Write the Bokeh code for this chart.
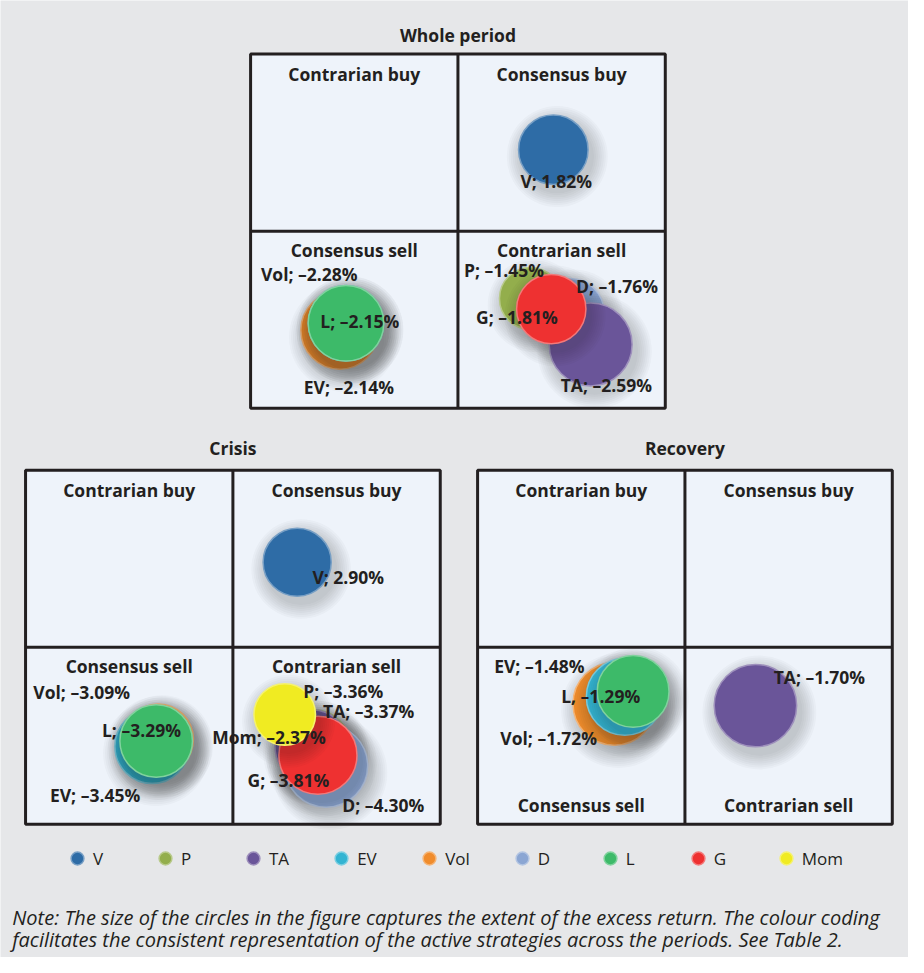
import math
from bokeh.plotting import figure
from bokeh.models import Range1d, Legend, LegendItem, Label
from bokeh.core.properties import value
from bokeh.embed import file_html
from bokeh.resources import INLINE

# ---------------- data ----------------
strategies = ["V", "P", "TA", "EV", "Vol", "D", "L", "G", "Mom"]

period_titles = ["Whole period", "Crisis", "Recovery"]
quadrant_labels = ["Contrarian buy", "Consensus buy", "Consensus sell", "Contrarian sell"]

# bubble positions in quadrant space (-1..1 both axes, quadrant borders at 0)
whole_names = ["V", "D", "TA", "P", "G", "Vol", "EV", "L"]
whole_returns = [1.82, -1.76, -2.59, -1.45, -1.81, -2.28, -2.14, -2.15]
whole_x = [0.46, 0.54, 0.64, 0.35, 0.45, -0.57, -0.54, -0.54]
whole_y = [0.46, -0.46, -0.64, -0.38, -0.44, -0.56, -0.52, -0.52]
whole_sep = ["; "] * 8

crisis_names = ["V", "EV", "Vol", "L", "P", "TA", "D", "G", "Mom"]
crisis_returns = [2.90, -3.45, -3.09, -3.29, -3.36, -3.37, -4.30, -3.81, -2.37]
crisis_x = [0.31, -0.39, -0.36, -0.37, 0.39, 0.38, 0.45, 0.41, 0.25]
crisis_y = [0.48, -0.56, -0.52, -0.53, -0.56, -0.56, -0.67, -0.61, -0.38]
crisis_sep = ["; "] * 9

recovery_names = ["Vol", "EV", "L", "TA"]
recovery_returns = [-1.72, -1.48, -1.29, -1.70]
recovery_x = [-0.34, -0.29, -0.25, 0.34]
recovery_y = [-0.32, -0.28, -0.25, -0.33]
recovery_sep = ["; ", "; ", ", ", "; "]

note_lines = [
    "Note: The size of the circles in the figure captures the extent of the excess return. The colour coding",
    "facilitates the consistent representation of the active strategies across the periods. See Table 2.",
]

# ---------------- style ----------------
BG = "#e6e7e9"
PANEL = "#eef3fa"
INK = "#231f20"
COLORS = {"V": "#2e6ca6", "P": "#93ae4c", "TA": "#6a5599", "EV": "#33b4d2",
          "Vol": "#f08c2c", "D": "#8ba6d3", "L": "#3dba69", "G": "#ee3131",
          "Mom": "#f0eb22"}
FONT = "Open Sans"
R_MAX = 0.2


def lighten(hx, f=0.35):
    hx = hx.lstrip("#")
    r, g, b = (int(hx[i:i + 2], 16) for i in (0, 2, 4))
    r, g, b = (int(c + (255 - c) * f) for c in (r, g, b))
    return "#%02x%02x%02x" % (r, g, b)


def fmt(name, v, sep):
    return f"{name}{sep}{'–' if v < 0 else ''}{abs(v):.2f}%"


W, H = 908, 957
# page coordinate frame (reference picture units)
X0, X1 = 0, 924
Y0, Y1 = 0, 973
S = W / (X1 - X0)

p = figure(width=W, height=H, x_range=Range1d(X0, X1), y_range=Range1d(Y1, Y0),
           output_backend="svg", toolbar_location=None, min_border=0,
           x_axis_location=None, y_axis_location=None,
           background_fill_color=BG, border_fill_color=BG, outline_line_color=None)
p.grid.visible = False

legend_renderers = {}

# label offsets (px) relative to bubble centres
whole_off = {"V": (3, 32), "D": (48, -27), "TA": (16, 41), "P": (-27, -29), "G": (-35, 8),
             "Vol": (-31, -57), "EV": (3, 65), "L": (14, -2)}
crisis_off = {"V": (52, 15), "Vol": (-78, -48), "EV": (-58, 50), "L": (-15, -11), "P": (30, -56),
              "TA": (58, -36), "Mom": (-16, 23), "G": (-30, 25), "D": (58, 40)}
recovery_off = {"Vol": (-67, 35), "EV": (-87, -31), "L": (-33, 5), "TA": (65, -29)}

panels = [
    ("whole", period_titles[0], (254.5, 676.5, 54.5, 414.5), -19, False,
     whole_names, whole_returns, whole_x, whole_y, whole_sep, whole_off),
    ("crisis", period_titles[1], (25.5, 447.5, 477.5, 837.5), -23, False,
     crisis_names, crisis_returns, crisis_x, crisis_y, crisis_sep, crisis_off),
    ("recovery", period_titles[2], (485.5, 907.5, 477.5, 837.5), -23, True,
     recovery_names, recovery_returns, recovery_x, recovery_y, recovery_sep, recovery_off),
]

for key, title, box, title_off, bottom_sell, names, rets, xs, ys, seps, offs in panels:
    L, R, T, B = box
    sx = (R - L) / 2
    cx = (L + R) / 2
    sy = (B - T) / 2
    cy = (T + B) / 2
    p.extra_x_ranges[key] = Range1d((X0 - cx) / sx, (X1 - cx) / sx)
    p.extra_y_ranges[key] = Range1d((cy - Y1) / sy, (cy - Y0) / sy)
    kw = dict(x_range_name=key, y_range_name=key)

    p.quad(left=[-1], right=[1], bottom=[-1], top=[1], fill_color=PANEL, line_color=None, **kw)

    rmax = max(abs(v) for v in rets)
    for name, v, x, y in zip(names, rets, xs, ys):
        r = R_MAX * math.sqrt(abs(v) / rmax)
        for k in range(1, 9):
            p.circle(x=[x + 4 / sx], y=[y - 7 / sy], radius=r + k * 2.0 / sx,
                     fill_color="#1a1f2e", fill_alpha=0.027, line_color=None, **kw)
        rr = p.circle(x=[x], y=[y], radius=r, fill_color=COLORS[name],
                      line_color=lighten(COLORS[name]), line_width=1.5, **kw)
        legend_renderers.setdefault(name, rr)

    # bubble labels
    p.text(x=xs, y=ys, text=[fmt(n, v, s) for n, v, s in zip(names, rets, seps)],
           x_offset=[offs[n][0] * S for n in names], y_offset=[offs[n][1] * S for n in names],
           text_font=value(FONT), text_font_style="bold", text_font_size="17.5px",
           text_color=INK, text_align="center", text_baseline="middle", **kw)

    # frame and quadrant dividers
    p.quad(left=[-1], right=[1], bottom=[-1], top=[1], fill_color=None,
           line_color=INK, line_width=3, **kw)
    p.segment(x0=[-1, 0], y0=[0, -1], x1=[1, 0], y1=[0, 1], line_color=INK, line_width=3, **kw)

    # quadrant labels
    qx = [-0.5, 0.5, -0.5, 0.5]
    if bottom_sell:
        qy = [1, 1, -1, -1]
        qoff = [20, 20, -20, -20]
    else:
        qy = [1, 1, 0, 0]
        qoff = [20, 20, 19, 19]
    p.text(x=qx, y=qy, text=quadrant_labels, y_offset=[o * S for o in qoff],
           text_font=value(FONT), text_font_style="bold", text_font_size="17.5px",
           text_color=INK, text_align="center", text_baseline="middle", **kw)

    # panel title
    p.text(x=[0], y=[1], text=[title], y_offset=[title_off * S],
           text_font=value(FONT), text_font_style="bold", text_font_size="17.5px",
           text_color=INK, text_align="center", text_baseline="middle", **kw)

legend = Legend(items=[LegendItem(label=s, renderers=[legend_renderers[s]]) for s in strategies],
                orientation="horizontal", location=(61, 83), spacing=36,
                glyph_width=32, glyph_height=32, label_standoff=0, padding=0, margin=0,
                background_fill_alpha=0, border_line_color=None,
                label_text_font=FONT, label_text_font_size="17px", label_text_color=INK)
p.add_layout(legend)

for i, line in enumerate(note_lines):
    p.add_layout(Label(x=12, y=932 + 22.5 * i, text=line, text_font=FONT,
                       text_font_style="italic", text_font_size="20px",
                       text_color=INK, text_baseline="middle", text_align="left"))

open("out.html", "w").write(file_html(p, INLINE))
